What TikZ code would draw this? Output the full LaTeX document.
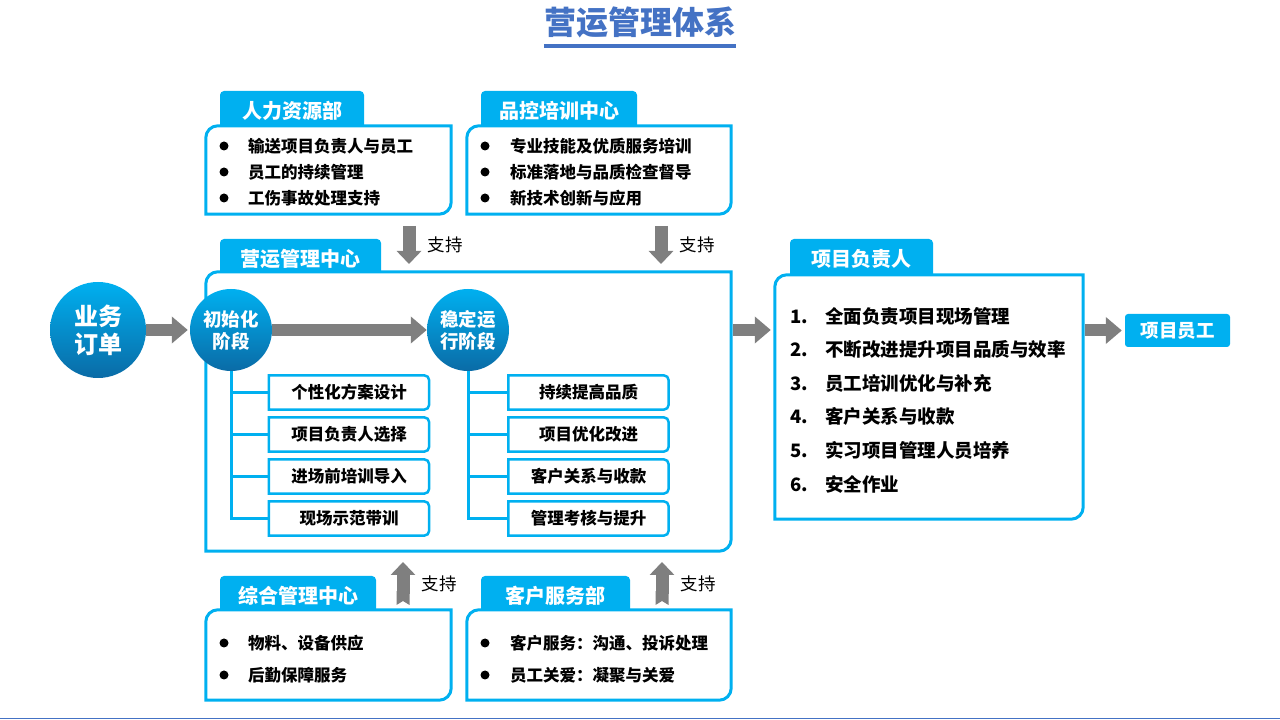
\documentclass[tikz,border=0pt]{standalone}
\usepackage{fontspec}
\newfontfamily\cjk{Noto Sans CJK SC}
\usetikzlibrary{arrows.meta}
\usetikzlibrary{positioning}

\definecolor{skyline}{HTML}{00B0F0}
\definecolor{deepsky}{HTML}{0A6BA6}
\definecolor{arrowgray}{HTML}{7F7F7F}
\definecolor{titleblue}{HTML}{4472C4}

\begin{document}
\begin{tikzpicture}
	[x=1pt,y=1pt,every node/.style={font=\cjk\bfseries},
	panel/.style={inner sep=0pt},
	panelline/.style={draw=skyline,line width=3pt,fill=white},
	tab/.style={fill=skyline,text=white,rounded corners=4pt,minimum height=40pt,inner sep=0pt,font=\cjk\bfseries\fontsize{20}{24}\selectfont},
	stage/.style={circle,minimum size=82pt,inner sep=0pt,top color=skyline,bottom color=deepsky,text=white,align=center,font=\cjk\bfseries\fontsize{18.5}{22}\selectfont},
	stepbox/.style={minimum width=160pt,minimum height=34pt,inner sep=0pt,font=\cjk\bfseries\fontsize{16.5}{20}\selectfont},
	boxline/.style={draw=skyline,line width=2.5pt},
	treeline/.style={draw=skyline,line width=3pt},
	item/.style={anchor=west,inner sep=0pt,font=\cjk\bfseries\fontsize{16.5}{20}\selectfont},
	pmitem/.style={anchor=west,inner sep=0pt,font=\cjk\bfseries\fontsize{18.5}{22}\selectfont},
	bigarrow/.style={draw=arrowgray,line width=12pt,-{Triangle[length=16pt,width=26pt]}},
	supparrow/.style={draw=arrowgray,line width=13pt,-{Triangle[length=13pt,width=24pt]}},
	uparrow/.style={draw=arrowgray,line width=13pt,{Triangle Cap[reversed,length=4pt]}-{Triangle[length=13pt,width=24pt]}},
	supptext/.style={inner sep=0pt,font=\cjk\fontsize{17.5}{20}\selectfont}]
	\useasboundingbox (0,0) rectangle (1280,720);

	% title
	\node[font=\cjk\bfseries\fontsize{32}{36}\selectfont,text=titleblue,inner sep=0pt] (title) at (640,698) {营运管理体系};
	\draw[titleblue,line width=4pt] (title.west |- 0,674) -- (title.east |- 0,674);
	\draw[titleblue,line width=1.5pt] (0,1.5) -- (1280,1.5);

	% panels
	\node[panel,minimum width=245pt,minimum height=88pt] (hr) at (328.5,550) {};
	\node[panel,minimum width=264pt,minimum height=88pt] (qc) at (599,550) {};
	\node[panel,minimum width=525pt,minimum height=279pt] (ops) at (468.5,308.5) {};
	\node[panel,minimum width=308pt,minimum height=244pt] (pm) at (929,323) {};
	\node[panel,minimum width=245pt,minimum height=90pt] (gm) at (328.5,65) {};
	\node[panel,minimum width=264pt,minimum height=90pt] (cs) at (599,65) {};

	\node[tab,minimum width=144pt] (hrT) at (292,609) {人力资源部};
	\node[tab,minimum width=156pt] (qcT) at (559,609) {品控培训中心};
	\node[tab,minimum width=161pt] (opsT) at (300.5,461) {营运管理中心};
	\node[tab,minimum width=143pt] (pmT) at (861.5,461) {项目负责人};
	\node[tab,minimum width=156pt] (gmT) at (298,124) {综合管理中心};
	\node[tab,minimum width=149pt] (csT) at (555.5,124) {客户服务部};

	\foreach \p in {hr,qc,ops,pm,gm,cs}
	\draw[panelline] (\p.south west) -- ([yshift=-12pt]\p.north west) arc[start angle=180,end angle=90,radius=12pt]
		-- (\p.north east) -- ([yshift=12pt]\p.south east) arc[start angle=0,end angle=-90,radius=12pt] -- cycle;

	% panel texts
	\foreach \t [count=\k] in {输送项目负责人与员工,员工的持续管理,工伤事故处理支持}
	{\fill (224,600-26*\k) circle (4.5pt); \node[item] (hr\k) at (248,600-26*\k) {\t};}
	\foreach \t [count=\k] in {专业技能及优质服务培训,标准落地与品质检查督导,新技术创新与应用}
	{\fill (485,600-26*\k) circle (4.5pt); \node[item] (qc\k) at (510,600-26*\k) {\t};}
	\foreach \t [count=\k] in {物料、设备供应,后勤保障服务}
	{\fill (224,109-32*\k) circle (4.5pt); \node[item] (gm\k) at (248,109-32*\k) {\t};}
	\foreach \t [count=\k] in {客户服务：沟通、投诉处理,员工关爱：凝聚与关爱}
	{\fill (485,109-32*\k) circle (4.5pt); \node[item] (cs\k) at (510,109-32*\k) {\t};}
	\foreach \t [count=\k] in {全面负责项目现场管理,不断改进提升项目品质与效率,员工培训优化与补充,客户关系与收款,实习项目管理人员培养,安全作业}
	\node[pmitem] (pm\k) at (790,437.6-33.6*\k) {\makebox[35pt][l]{\k.}\t};

	% stages
	\node[stage,minimum size=96pt,font=\cjk\bfseries\fontsize{24}{28}\selectfont] (order) at (98,390) {业务\\订单};
	\node[stage] (init) at (231,390) {初始化\\阶段};
	\node[stage] (stable) at (468,390) {稳定运\\行阶段};

	\foreach \t [count=\k] in {个性化方案设计,项目负责人选择,进场前培训导入,现场示范带训}
	\node[stepbox] (init\k) at (349,369.5-42*\k) {\t};
	\foreach \t [count=\k] in {持续提高品质,项目优化改进,客户关系与收款,管理考核与提升}
	\node[stepbox] (stab\k) at (588.5,369.5-42*\k) {\t};

	\foreach \b in {init1,init2,init3,init4,stab1,stab2,stab3,stab4}
	\draw[boxline] (\b.south west) -- (\b.north west) -- ([xshift=-5pt]\b.north east) arc[start angle=90,end angle=0,radius=5pt]
		-- ([yshift=5pt]\b.south east) arc[start angle=0,end angle=-90,radius=5pt] -- cycle;

	\draw[treeline] (init.south) -- (init.south |- init4.west) -- (init4.west);
	\draw[treeline] (stable.south) -- (stable.south |- stab4.west) -- (stab4.west);
	\foreach \k in {1,2,3}
	{\draw[treeline] (init |- init\k.west) -- (init\k.west);
	 \draw[treeline] (stable |- stab\k.west) -- (stab\k.west);}

	% flow arrows
	\node[fill=skyline,text=white,rounded corners=3pt,minimum width=105pt,minimum height=33pt,inner sep=0pt,font=\cjk\bfseries\fontsize{18.5}{22}\selectfont] (staff) at (1177.5,389.5) {项目员工};
	\draw[bigarrow,shorten >=2pt] (order) -- (init);
	\draw[bigarrow] (init) -- (stable);
	\draw[bigarrow,shorten <=2pt,shorten >=4pt] (ops.east |- stable) -- (pm.west |- stable);
	\draw[bigarrow,shorten <=2pt,shorten >=3pt] (pm.east |- staff) -- (staff);

	% support arrows
	\coordinate (d1a) at (409,494); \coordinate (d1b) at (409,456);
	\coordinate (d2a) at (661,494); \coordinate (d2b) at (661,456);
	\coordinate (u1a) at (403,115); \coordinate (u1b) at (403,158);
	\coordinate (u2a) at (662,115); \coordinate (u2b) at (662,158);
	\foreach \a/\b in {d1a/d1b,d2a/d2b}
	\draw[supparrow] (\a) -- (\b) node[midway,right=12pt,supptext] {支持};
	\foreach \a/\b in {u1a/u1b,u2a/u2b}
	\draw[uparrow] (\a) -- (\b) node[midway,right=12pt,supptext] {支持};
\end{tikzpicture}
\end{document}
